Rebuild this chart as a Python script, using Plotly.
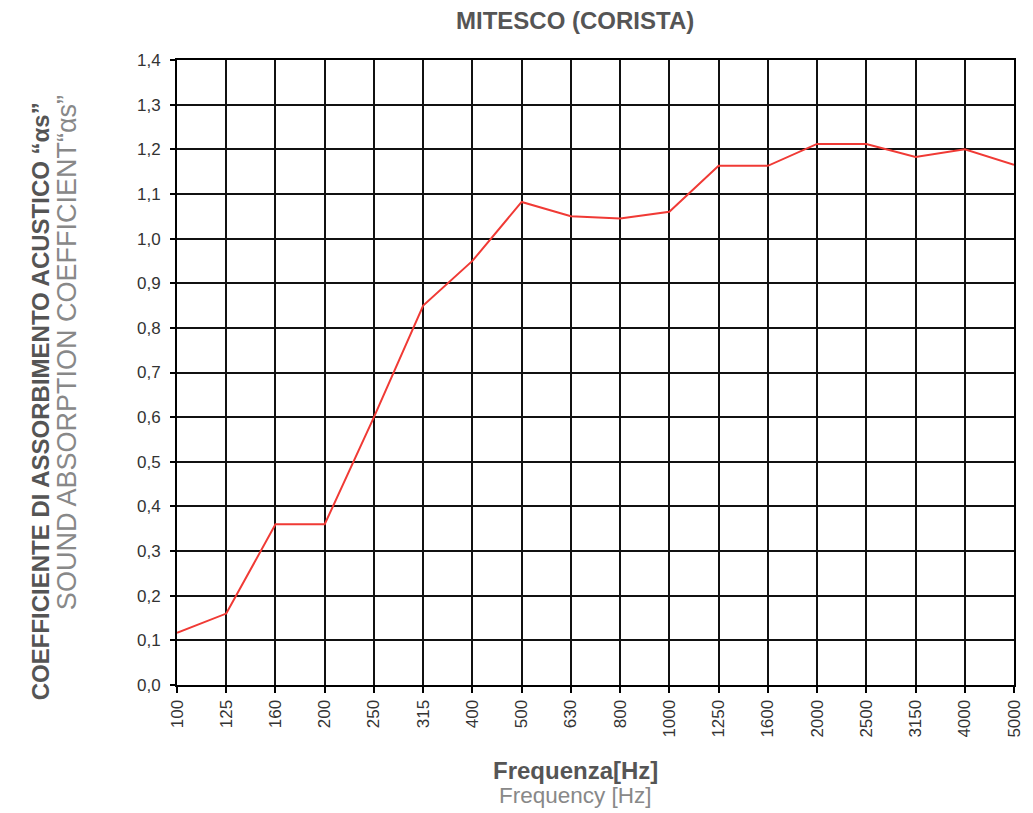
import plotly.graph_objects as go

frequencies = ["100", "125", "160", "200", "250", "315", "400", "500", "630", "800",
               "1000", "1250", "1600", "2000", "2500", "3150", "4000", "5000"]
alpha_s = [0.117, 0.16, 0.36, 0.36, 0.60, 0.85, 0.95, 1.082, 1.05, 1.045,
           1.06, 1.163, 1.163, 1.212, 1.212, 1.183, 1.20, 1.165]
y_ticks = [0.0, 0.1, 0.2, 0.3, 0.4, 0.5, 0.6, 0.7, 0.8, 0.9, 1.0, 1.1, 1.2, 1.3, 1.4]

title_text = "MITESCO (CORISTA)"
ytitle_it = "COEFFICIENTE DI ASSORBIMENTO ACUSTICO “αs”"
ytitle_en = "SOUND ABSORPTION COEFFICIENT“αs”"
xtitle_it = "Frequenza[Hz]"
xtitle_en = "Frequency [Hz]"

FONT = "Liberation Sans, Arial, sans-serif"

fig = go.Figure()
fig.add_trace(go.Scatter(
    x=list(range(len(frequencies))), y=alpha_s, mode="lines",
    line=dict(color="#f03a35", width=2), showlegend=False, hoverinfo="skip"))

fig.update_layout(
    width=1033, height=813,
    margin=dict(l=169, r=27, t=52, b=136),
    paper_bgcolor="white", plot_bgcolor="white",
    separators=", ",
    font=dict(family=FONT, color="#222"),
    xaxis=dict(
        range=[0, len(frequencies) - 1],
        tickmode="array", tickvals=list(range(len(frequencies))), ticktext=frequencies,
        tickangle=-90, tickfont=dict(size=17, color="#333"),
        showgrid=True, gridcolor="#111", gridwidth=1.5,
        showline=True, linecolor="#000", linewidth=2, mirror=True,
        ticks="outside", ticklen=6, tickcolor="#000", tickwidth=1.5,
        zeroline=False,
    ),
    yaxis=dict(
        range=[0, 1.4],
        tickmode="array", tickvals=y_ticks, tickformat=".1f",
        tickfont=dict(size=17, color="#333"),
        ticklabelstandoff=6,
        showgrid=True, gridcolor="#111", gridwidth=1.5,
        showline=True, linecolor="#000", linewidth=2, mirror=True,
        ticks="outside", ticklen=5, tickcolor="#000", tickwidth=1.5,
        zeroline=False,
    ),
    annotations=[
        dict(text="<b>" + title_text + "</b>", xref="paper", yref="paper",
             x=0.4755, y=1.0, yshift=40, xanchor="center", yanchor="middle",
             showarrow=False, font=dict(size=24, color="#555", family=FONT)),
        dict(text="<b>" + ytitle_it + "</b>", xref="paper", yref="paper",
             x=0, xshift=-137, y=0.454, xanchor="center", yanchor="middle",
             textangle=-90, showarrow=False,
             font=dict(size=24, color="#555", family=FONT)),
        dict(text=ytitle_en, xref="paper", yref="paper",
             x=0, xshift=-110, y=0.531, xanchor="center", yanchor="middle",
             textangle=-90, showarrow=False,
             font=dict(size=27, color="#888", family=FONT)),
        dict(text="<b>" + xtitle_it + "</b>", xref="paper", yref="paper",
             x=0.476, y=0, yshift=-85, xanchor="center", yanchor="middle",
             showarrow=False, font=dict(size=24, color="#555", family=FONT)),
        dict(text=xtitle_en, xref="paper", yref="paper",
             x=0.476, y=0, yshift=-110, xanchor="center", yanchor="middle",
             showarrow=False, font=dict(size=22.5, color="#888", family=FONT)),
    ],
)

fig.write_html("out.html")
